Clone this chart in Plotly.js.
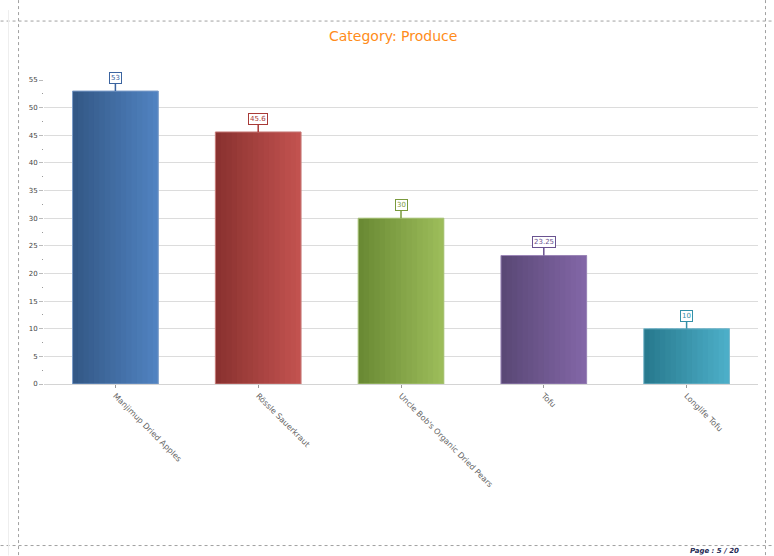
<!DOCTYPE html>
<html>
<head>
<meta charset="utf-8">
<script src="https://cdn.plot.ly/plotly-3.0.1.min.js"></script>
<style>
html,body{margin:0;padding:0;background:#fff;}
#chart{width:774px;height:556px;}
</style>
</head>
<body>
<div id="chart"></div>
<script>
// ---- data ----
const products = ["Manjimup Dried Apples", "Rössle Sauerkraut", "Uncle Bob's Organic Dried Pears", "Tofu", "Longlife Tofu"];
const unitPrice = [53, 45.6, 30, 23.25, 10];
const valueLabels = ["53", "45.6", "30", "23.25", "10"];
const yTicks = [0, 5, 10, 15, 20, 25, 30, 35, 40, 45, 50, 55];

// ---- styling ----
const darkColors  = [[51, 88, 134], [138, 50, 48], [106, 138, 52], [90, 72, 118], [40, 122, 142]];
const lightColors = [[80, 130, 192], [194, 82, 79], [156, 188, 90], [130, 102, 166], [76, 174, 200]];
const edgeColors  = ["#7a9cc8", "#c77a78", "#a9c47a", "#9b86b8", "#7ab9cc"];
const labelColors = ["#3b64a0", "#a83a37", "#7a9a3d", "#6a5390", "#3591a8"];

const W = 774, H = 556;
const L = 43.5, R = 15.5, T = 80, B = 171.7;
const px2x = px => (px - L) / (W - L - R);
const px2y = py => (H - B - py) / (H - T - B);

const N = 16, BW = 0.6;
const traces = [];
function mix(a, b, t) { return 'rgb(' + a.map((v, i) => Math.round(v + (b[i] - v) * t)).join(',') + ')'; }
for (let k = 0; k < N; k++) {
  const t = k / (N - 1);
  const off = -BW / 2 + k * BW / N;
  const w = Math.min(BW / N * 2.5, BW / 2 - off);
  traces.push({
    type: 'bar', x: products, y: unitPrice,
    width: w, offset: off,
    marker: { color: darkColors.map((d, i) => mix(d, lightColors[i], t)), line: { width: 0 } },
    hoverinfo: 'skip', showlegend: false
  });
}
traces.push({
  type: 'bar', x: products, y: unitPrice, width: BW, offset: -BW / 2,
  marker: { color: 'rgba(0,0,0,0)', line: { color: edgeColors, width: 1 } },
  showlegend: false, hovertemplate: '%{x}: %{y}<extra></extra>'
});

const annotations = products.map((p, i) => ({
  x: p, y: unitPrice[i], xref: 'x', yref: 'y',
  text: valueLabels[i], showarrow: true, arrowhead: 0, arrowwidth: 1.5,
  arrowcolor: labelColors[i], ax: 0, ay: -13,
  font: { family: 'DejaVu Sans, sans-serif', size: 7, color: labelColors[i] },
  bordercolor: labelColors[i], borderwidth: 1, borderpad: 1, bgcolor: '#fff'
}));
annotations.push({
  xref: 'paper', yref: 'paper', x: px2x(715), y: px2y(551), xanchor: 'center', yanchor: 'middle',
  showarrow: false, text: '<b><i>Page : 5 / 20</i></b>',
  font: { family: 'DejaVu Sans, sans-serif', size: 7, color: '#1f2a55' }
});

const dash = { color: '#a0a0a0', width: 1, dash: 'dot' };
const shapes = [
  { type: 'line', xref: 'paper', yref: 'paper', x0: px2x(18), x1: px2x(18), y0: px2y(0), y1: px2y(556), line: dash },
  { type: 'line', xref: 'paper', yref: 'paper', x0: px2x(766), x1: px2x(766), y0: px2y(0), y1: px2y(556), line: dash },
  { type: 'line', xref: 'paper', yref: 'paper', x0: px2x(0), x1: px2x(774), y0: px2y(21), y1: px2y(21), line: dash },
  { type: 'line', xref: 'paper', yref: 'paper', x0: px2x(0), x1: px2x(774), y0: px2y(546), y1: px2y(546), line: dash },
  { type: 'line', xref: 'paper', yref: 'paper', x0: px2x(8), x1: px2x(8), y0: px2y(10), y1: px2y(556), line: { color: '#eeeeee', width: 1 } }
];

const layout = {
  width: W, height: H,
  margin: { l: L, r: R, t: T, b: B, pad: 0 },
  paper_bgcolor: '#fff', plot_bgcolor: '#fff',
  barmode: 'overlay', bargap: 0.4,
  showlegend: false,
  title: {
    text: 'Category: Produce', x: 0.508, xanchor: 'center', y: 1 - 36 / H, yanchor: 'middle',
    font: { family: 'DejaVu Sans, sans-serif', size: 14, color: '#ff8c1a' }
  },
  xaxis: {
    type: 'category', tickangle: 45, showgrid: false, showline: true, linecolor: '#d4d4d4', linewidth: 1,
    ticks: 'outside', ticklen: 3, tickcolor: '#999',
    tickfont: { family: 'DejaVu Sans, sans-serif', size: 8, color: '#666' },
    range: [-0.5, products.length - 0.5], fixedrange: true
  },
  yaxis: {
    range: [0, 55], tickmode: 'array', tickvals: yTicks, ticktext: yTicks.map(String),
    showgrid: true, gridcolor: '#dcdcdc', gridwidth: 1, zeroline: false, showline: false,
    ticks: 'outside', ticklen: 4, tickcolor: '#bbb',
    minor: { ticks: 'outside', ticklen: 1.5, tickcolor: '#999', dtick: 2.5, showgrid: false },
    tickfont: { family: 'DejaVu Sans, sans-serif', size: 7, color: '#444' }, fixedrange: true
  },
  annotations: annotations,
  shapes: shapes
};

Plotly.newPlot('chart', traces, layout, { displayModeBar: false, staticPlot: true });
</script>
</body>
</html>
